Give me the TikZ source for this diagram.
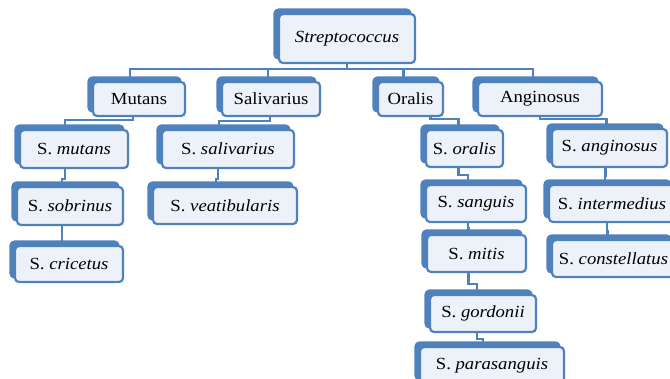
\documentclass[tikz,border=0pt]{standalone}
\usepackage{fontspec}
\setmainfont{Liberation Serif}[FakeStretch=1.1]
\usetikzlibrary{backgrounds}
\definecolor{sablue}{HTML}{4F81BD}
\definecolor{salight}{HTML}{EDF2FA}
\tikzset{
  box/.style={draw=sablue, line width=2.2pt, rounded corners=4pt, fill=salight,
    inner sep=0pt, font=\fontsize{17}{20}\selectfont,
    preaction={draw=sablue, fill=sablue, transform canvas={xshift=-4.5pt,yshift=4.5pt}}},
  conn/.style={draw=sablue, line width=2.4pt}
}
\newcommand\mybox[6]{%
  \node[box, minimum width={(#4-#2)*1pt}, minimum height={(#5-#3)*1pt}]
    (#1) at ({(#2+#4)/2},{(#3+#5)/2}) {#6};}
\begin{document}
\begin{tikzpicture}[x=1pt,y=-1pt]
\useasboundingbox (0,0) rectangle (670,378);
\clip (0,0) rectangle (670,378);
\coordinate (bus) at (0,69);
\mybox{strep}{279}{14}{415}{63}{\textit{Streptococcus}}
\mybox{mutans}{93}{82}{185}{116}{Mutans}
\mybox{saliv}{222}{82}{320}{116}{Salivarius}
\mybox{oralis}{378}{82}{443}{116}{Oralis}
\mybox{angin}{478}{82}{602}{116}{Anginosus}
\mybox{smut}{20}{130}{128}{168}{S. \textit{mutans}}
\mybox{ssob}{17}{187}{123}{225}{S. \textit{sobrinus}}
\mybox{scri}{15}{246}{123}{282}{S. \textit{cricetus}}
\mybox{ssal}{162}{130}{294}{168}{S. \textit{salivarius}}
\mybox{svea}{153}{187}{297}{224}{S. \textit{veatibularis}}
\mybox{sora}{426}{130}{503}{167}{S. \textit{oralis}}
\mybox{ssan}{426}{185}{526}{222}{S. \textit{sanguis}}
\mybox{smit}{427}{235}{526}{272}{S. \textit{mitis}}
\mybox{sgor}{430}{295}{536}{332}{S. \textit{gordonii}}
\mybox{spar}{420}{347}{564}{384}{S. \textit{parasanguis}}
\mybox{sang}{552}{129}{667}{167}{S. \textit{anginosus}}
\mybox{sint}{549}{185}{675}{222}{S. \textit{intermedius}}
\mybox{scon}{552}{240}{675}{277}{S. \textit{constellatus}}
\begin{scope}[on background layer]
\draw[conn] (strep.south) -- (strep.south |- bus);
\draw[conn] ([xshift=-9pt]mutans.north) -- ([xshift=-9pt]mutans.north |- bus)
  -- ([xshift=-7pt]angin.north |- bus) -- ([xshift=-7pt]angin.north);
\draw[conn] ([xshift=-3pt]saliv.north) -- ([xshift=-3pt]saliv.north |- bus);
\draw[conn] ([xshift=-7pt]oralis.north) -- ([xshift=-7pt]oralis.north |- bus);
% second level
\draw[conn] ([xshift=-6pt]mutans.south) -- ++(0,3) -| ([xshift=-9pt]smut.north);
\draw[conn] ([xshift=-1pt]saliv.south) -- ++(0,4) -| ([xshift=-9pt]ssal.north);
\draw[conn] ([xshift=20pt]oralis.south) -- ++(0,2) -| ([xshift=-6pt]sora.north);
\draw[conn] (angin.south) -- ++(0,2) -| ([xshift=-3pt]sang.north);
% chains
\draw[conn] ([xshift=-9pt]smut.south) -- ++(0,10) -| ([xshift=-8pt]ssob.north);
\draw[conn] ([xshift=-8pt]ssob.south) -- ++(0,12) -| ([xshift=-7pt]scri.north);
\draw[conn] ([xshift=-10pt]ssal.south) -- ++(0,10) -| ([xshift=-9pt]svea.north);
\draw[conn] ([xshift=-6pt]sora.south) -- ++(0,7) -| ([xshift=-8pt]ssan.north);
\draw[conn] ([xshift=-8pt]ssan.south) -- ++(0,5) -| ([xshift=-8pt]smit.north);
\draw[conn] ([xshift=-8pt]smit.south) -- ++(0,11) -| ([xshift=-6pt]sgor.north);
\draw[conn] ([xshift=-6pt]sgor.south) -- ++(0,6) -| ([xshift=-9pt]spar.north);
\draw[conn] ([xshift=-4pt]sang.south) -- ++(0,8) -| ([xshift=-7pt]sint.north);
\draw[conn] ([xshift=-5pt]sint.south) -- ++(0,8) -| ([xshift=-6pt]scon.north);
\end{scope}
\end{tikzpicture}
\end{document}
